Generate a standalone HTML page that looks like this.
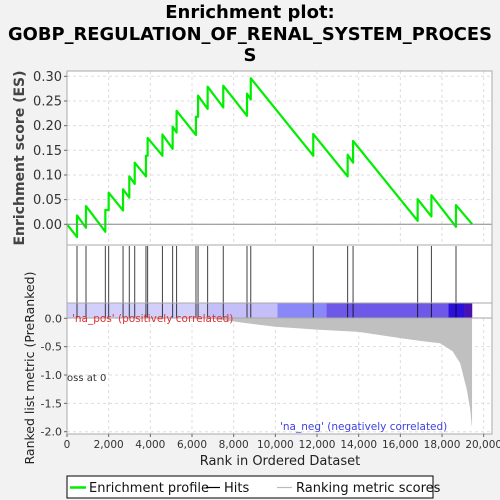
<!DOCTYPE html>
<html><head><meta charset="utf-8"><style>
html,body{margin:0;padding:0;background:#f2f2f2;}
svg{display:block;font-family:"DejaVu Sans","Liberation Sans",sans-serif;}
</style></head><body>
<svg id="chart" width="500" height="500" viewBox="0 0 500 500">
<g font-weight="bold" font-size="18" text-anchor="middle" fill="#000">
<text x="250" y="18">Enrichment plot:</text>
<text x="250" y="40" textLength="484" lengthAdjust="spacingAndGlyphs">GOBP_REGULATION_OF_RENAL_SYSTEM_PROCES</text>
<text x="250" y="61">S</text>
</g>
<rect x="67" y="71" width="425" height="363" fill="#fff" stroke="none"/>
<g id="grid"></g>
<g id="metric"></g>
<g id="colorbar"></g>
<g id="hits"></g>
<g id="es"></g>
<g id="axes"></g>
<text x="72" y="322" font-size="10.5" fill="#e03030">'na_pos' (positively correlated)</text>
<text x="280" y="430" font-size="10.5" fill="#4040e0">'na_neg' (negatively correlated)</text>
<text x="67" y="381" font-size="10" fill="#333">oss at 0</text>
<text x="24" y="158" font-size="14" font-weight="bold" fill="#444" text-anchor="middle" transform="rotate(-90 24 158)">Enrichment score (ES)</text>
<text x="34" y="368" font-size="12.5" fill="#222" text-anchor="middle" transform="rotate(-90 34 368)">Ranked list metric (PreRanked)</text>
<text x="280" y="465" font-size="13" fill="#222" text-anchor="middle">Rank in Ordered Dataset</text>
<g>
<rect x="67" y="476" width="366" height="22" fill="#fff" stroke="#000" stroke-width="1"/>
<line x1="70" y1="487.5" x2="86" y2="487.5" stroke="#00ee00" stroke-width="2.5"/>
<text x="89" y="492" font-size="13" fill="#111">Enrichment profile</text>
<line x1="206" y1="487.5" x2="220" y2="487.5" stroke="#000" stroke-width="1.2"/>
<text x="224" y="492" font-size="13" fill="#111">Hits</text>
<line x1="277" y1="487.5" x2="292" y2="487.5" stroke="#bbb" stroke-width="1.2"/>
<text x="296" y="492" font-size="13" fill="#111">Ranking metric scores</text>
</g>
</svg>
<script>
const hitRanks=[480,912,1840,2000,2690,2990,3250,3790,3870,4580,5070,5260,6190,6290,6750,7500,8640,8820,11820,13470,13730,16830,17490,18670];
const esBefore=[-0.026,-0.007,-0.015,0.029,0.028,0.054,0.082,0.097,0.139,0.139,0.153,0.186,0.181,0.218,0.234,0.237,0.22,0.253,0.139,0.097,0.125,0.007,0.016,-0.005];
const esAfter=[0.018,0.037,0.029,0.064,0.071,0.097,0.125,0.139,0.175,0.182,0.198,0.23,0.218,0.261,0.279,0.281,0.265,0.296,0.183,0.141,0.169,0.051,0.059,0.039];
const totalRanks=19450;
const metricRanks=[0,6700,7500,8500,10000,12000,14000,16000,17000,17900,18500,18870,19190,19350,19440];
const metricValues=[0,0,-0.03,-0.08,-0.15,-0.2,-0.24,-0.35,-0.4,-0.44,-0.58,-0.79,-1.26,-1.6,-1.94];
const xTicks=[0,2000,4000,6000,8000,10000,12000,14000,16000,18000,20000];
const esTicks=[0,0.05,0.1,0.15,0.2,0.25,0.3];
const metricTicks=[0,-0.5,-1,-1.5,-2];
const barStops=[0,6800,10100,12450,18300,19100,19450];
const barColors=["#d2d0fa","#c4bff8","#8a88f8","#6e58e8","#2a10d8","#4a10b0"];

const NS="http://www.w3.org/2000/svg";
const X=r=>67+r*0.020835;
const YE=v=>224.3-v*493.3;
const YM=v=>318.3-v*56.7;
function mk(tag,attrs,parent){const e=document.createElementNS(NS,tag);for(const k in attrs)e.setAttribute(k,attrs[k]);parent.appendChild(e);return e;}
const g=id=>document.getElementById(id);

xTicks.forEach(t=>{
  [[71,245],[318,434]].forEach(([a,b])=>{
    const l=mk('line',{x1:X(t),x2:X(t),y1:a,y2:b,stroke:'#ddd','stroke-dasharray':'3,3'},g('grid'));
    
    
  });
});
esTicks.forEach(t=>{
  const l=mk('line',{x1:67,x2:492,y1:YE(t),y2:YE(t),stroke:'#ddd','stroke-dasharray':'3,3'},g('grid'));
  
  
});
metricTicks.forEach(t=>{
  const l=mk('line',{x1:67,x2:492,y1:YM(t),y2:YM(t),stroke:'#ddd','stroke-dasharray':'3,3'},g('grid'));
  
  
});
let d='M'+X(metricRanks[0])+','+YM(0);
metricRanks.forEach((r,i)=>{d+=' L'+X(r)+','+YM(metricValues[i]);});
d+=' L'+X(metricRanks[metricRanks.length-1])+','+YM(0)+' Z';
const area=mk('path',{d:d,fill:'#c0c0c0',stroke:'none'},g('metric'));


barColors.forEach((c,i)=>{
  const r=mk('rect',{x:X(barStops[i]),y:303,width:X(barStops[i+1])-X(barStops[i]),height:15,fill:c},g('colorbar'));
  
  
});
hitRanks.forEach(r=>{
  const l=mk('line',{x1:X(r),x2:X(r),y1:246,y2:318,stroke:'#000','stroke-width':1,'stroke-opacity':0.75},g('hits'));
  
  
});
let p='M'+X(0)+','+YE(0);
hitRanks.forEach((r,i)=>{p+=' L'+X(r)+','+YE(esBefore[i])+' L'+X(r)+','+YE(esAfter[i]);});
p+=' L'+X(totalRanks)+','+YE(0);
const es=mk('path',{d:p,fill:'none',stroke:'#00ee00','stroke-width':2.2,'stroke-linejoin':'round'},g('es'));


const A=g('axes');
const zl=mk('line',{x1:67,x2:492,y1:YE(0),y2:YE(0),stroke:'#888','stroke-width':1},A);


[[71,245],[245,303],[303,318],[318,434]].forEach(([a,b])=>{
  const r=mk('rect',{x:67,y:a,width:425,height:b-a,fill:'none',stroke:'#aaa','stroke-width':1},A);
  
  
});
esTicks.forEach(t=>{
  const tx=mk('text',{x:62,y:YE(t)+4.5,'font-size':13,fill:'#333','text-anchor':'end'},A);
  tx.textContent=t.toFixed(2);
  
  
  const tk=mk('line',{x1:64,x2:67,y1:YE(t),y2:YE(t),stroke:'#666'},A);
  
  
});
metricTicks.forEach(t=>{
  const tx=mk('text',{x:62,y:YM(t)+4,'font-size':11,fill:'#333','text-anchor':'end'},A);
  tx.textContent=t.toFixed(1);
  
  
  const tk=mk('line',{x1:64,x2:67,y1:YM(t),y2:YM(t),stroke:'#666'},A);
  
  
});
xTicks.forEach(t=>{
  const tx=mk('text',{x:X(t),y:448,'font-size':10.5,fill:'#333','text-anchor':'middle'},A);
  tx.textContent=t.toLocaleString('en-US');
  
  
  const tk=mk('line',{x1:X(t),x2:X(t),y1:434,y2:437,stroke:'#666'},A);
  
  
});
</script>
</body></html>
